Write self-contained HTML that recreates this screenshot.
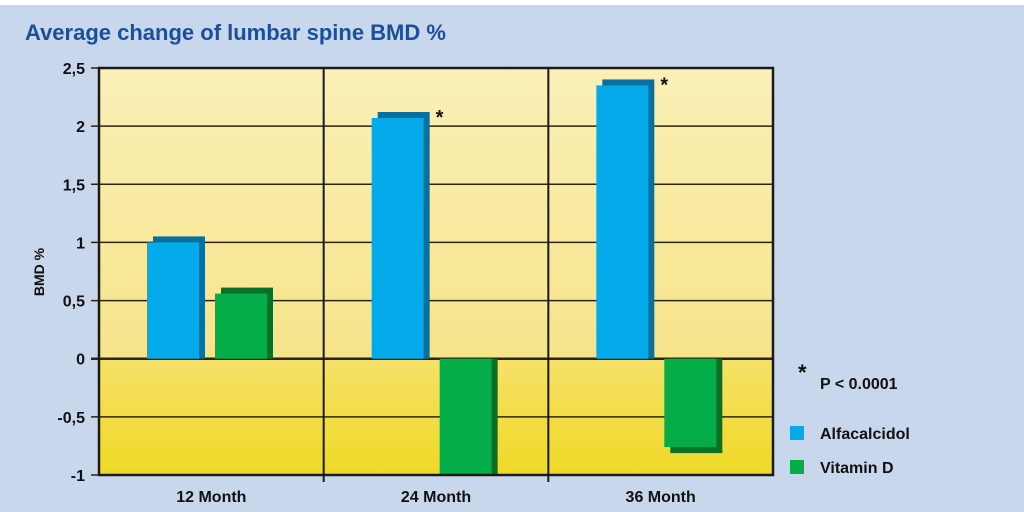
<!DOCTYPE html>
<html><head><meta charset="utf-8"><style>
body{margin:0;background:#fff}
svg{display:block;font-family:"Liberation Sans",sans-serif}
</style></head><body>
<svg width="1024" height="512" viewBox="0 0 1024 512">
<defs>
<linearGradient id="upper" x1="0" y1="0" x2="0" y2="1"><stop offset="0" stop-color="#faf0b8"/><stop offset="1" stop-color="#f6e48a"/></linearGradient>
<linearGradient id="lower" x1="0" y1="0" x2="0" y2="1"><stop offset="0" stop-color="#f6e169"/><stop offset="1" stop-color="#efd925"/></linearGradient>
<clipPath id="plotclip"><rect x="99" y="68" width="674" height="407"/></clipPath>
</defs>
<rect x="0" y="0" width="1024" height="512" fill="#ffffff"/>
<rect x="0" y="5" width="1024" height="507" fill="#c9d7ed"/>
<text x="25" y="40" font-size="22" font-weight="bold" fill="#1a4f9a">Average change of lumbar spine BMD %</text>
<g id="plot"></g>
<text transform="translate(44,272) rotate(-90)" text-anchor="middle" font-size="14" font-weight="bold" fill="#111">BMD %</text>
<text x="798" y="380" font-size="22" font-weight="bold" fill="#111">*</text>
<text x="820" y="389" font-size="16" font-weight="bold" fill="#111">P &lt; 0.0001</text>
<rect x="790" y="426" width="14" height="14" fill="#04aaea"/>
<text x="820" y="439" font-size="16" font-weight="bold" fill="#111">Alfacalcidol</text>
<rect x="790" y="460" width="14" height="14" fill="#05ad48"/>
<text x="820" y="473" font-size="16" font-weight="bold" fill="#111">Vitamin D</text>
</svg>
<script>
const categories=["12 Month","24 Month","36 Month"];
const alfacalcidol=[1.0,2.07,2.35];
const vitaminD=[0.56,-1.0,-0.76];
const significant=[false,true,true];
const yTicks=[2.5,2,1.5,1,0.5,0,-0.5,-1];
const yTickLabels=["2,5","2","1,5","1","0,5","0","-0,5","-1"];

const NS="http://www.w3.org/2000/svg";
const L=99,R=773,T=68,B=475,yMin=-1,yMax=2.5;
const y=v=>T+(yMax-v)/(yMax-yMin)*(B-T);
const bw=(R-L)/categories.length;
const x=i=>L+i*bw;
const g=document.getElementById('plot');
function mk(tag,attrs,parent){const e=document.createElementNS(NS,tag);for(const k in attrs)e.setAttribute(k,attrs[k]);(parent||g).appendChild(e);return e;}

let e=mk('rect',{x:L,y:T,width:R-L,height:y(0)-T,fill:'url(#upper)'});


e=mk('rect',{x:L,y:y(0),width:R-L,height:B-y(0),fill:'url(#lower)'});



yTicks.forEach((t,i)=>{
  const l=mk('line',{x1:L-8,x2:R,y1:y(t),y2:y(t),stroke:'#2a2410','stroke-width':t===0?2.5:1.5});
  
  
  const tx=mk('text',{x:L-14,y:y(t)+6,'text-anchor':'end','font-size':16,'font-weight':'bold',fill:'#111'});
  tx.textContent=yTickLabels[i];
  
  
});
for(let i=1;i<categories.length;i++){
  const l=mk('line',{x1:x(i),x2:x(i),y1:T,y2:B+7,stroke:'#1a1a1a','stroke-width':2});
  
  
}
const bars=mk('g',{'clip-path':'url(#plotclip)'});
function bar(i,v,off,front,shadow,name){
  const bx=x(i)+off, w=52, d=6;
  const y0=y(0), yv=y(v);
  const sy=v>=0?yv-d:y0, sh=v>=0?y0-yv+d:yv-y0+d;
  let s=mk('rect',{x:bx+d,y:sy,width:w,height:sh,fill:shadow},bars);
  
  
  let f=mk('rect',{x:bx,y:Math.min(y0,yv),width:w,height:Math.abs(yv-y0),fill:front},bars);
  
  
}
categories.forEach((c,i)=>{
  bar(i,alfacalcidol[i],48,'#04aaea','#08709e','bar-alfacalcidol-'+(i+1));
  bar(i,vitaminD[i],116,'#05ad48','#087127','bar-vitamin-d-'+(i+1));
  if(significant[i]){
    const a=mk('text',{x:x(i)+48+52+12,y:y(alfacalcidol[i])+6,'font-size':20,'font-weight':'bold',fill:'#111'});
    a.textContent='*';
    
    
  }
  const t=mk('text',{x:x(i)+bw/2,y:502,'text-anchor':'middle','font-size':16,'font-weight':'bold',fill:'#111'});
  t.textContent=c;
  
  
});
e=mk('rect',{x:L,y:T,width:R-L,height:B-T,fill:'none',stroke:'#1a1a1a','stroke-width':2.5});


</script>
</body></html>
